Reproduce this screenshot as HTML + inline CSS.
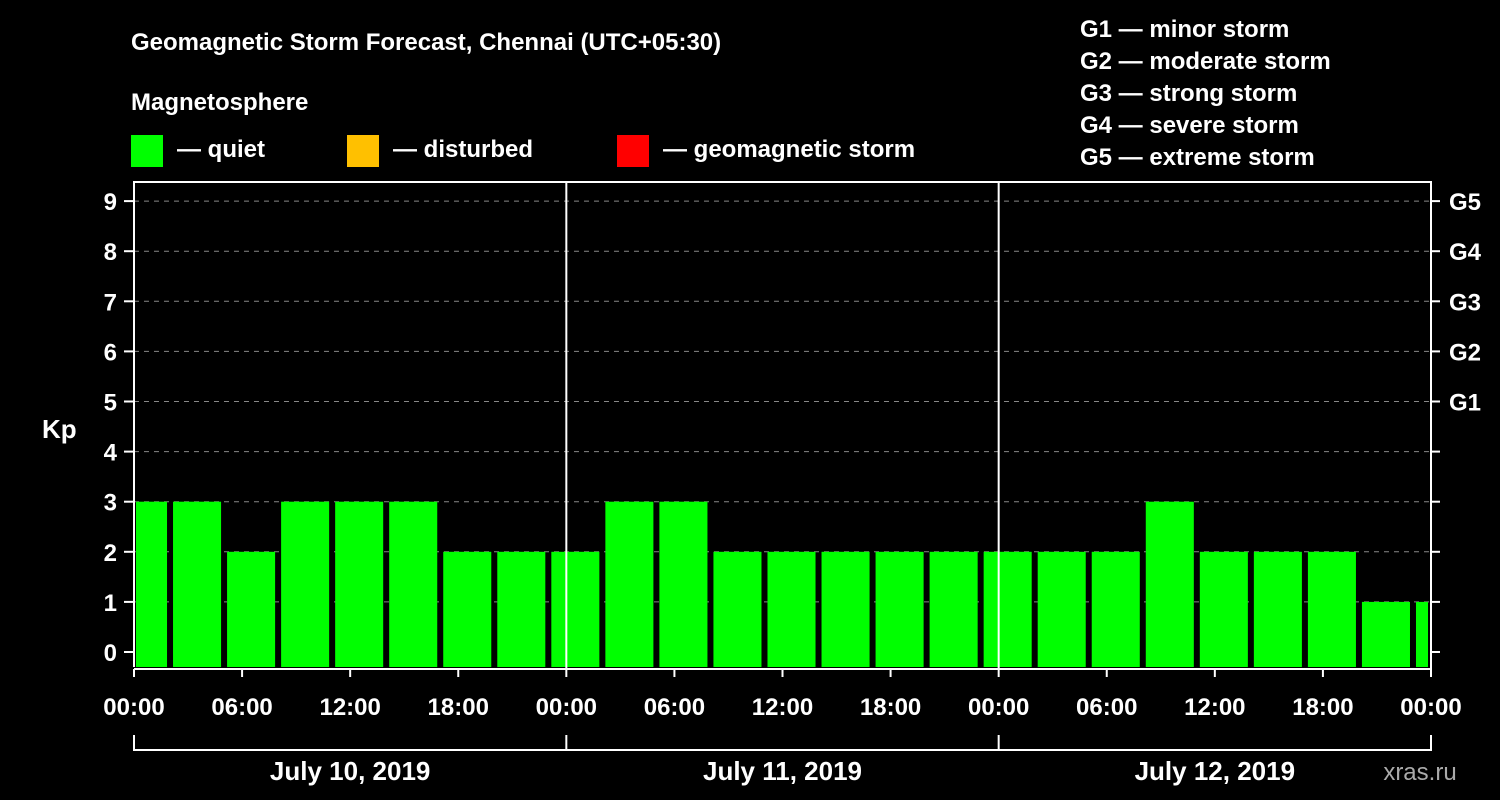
<!DOCTYPE html>
<html><head><meta charset="utf-8"><style>
body{margin:0;background:#000;}
svg{display:block;font-family:"Liberation Sans",Arial,sans-serif;font-weight:bold;}
</style></head><body>
<svg id="chart" width="1500" height="800" viewBox="0 0 1500 800">
<rect width="1500" height="800" fill="#000"/>
<text x="131" y="50" fill="#fff" font-size="24">Geomagnetic Storm Forecast, Chennai (UTC+05:30)</text>
<text x="131" y="110" fill="#fff" font-size="24">Magnetosphere</text>
<g><rect x="131" y="135" width="32" height="32" fill="#00ff00"/><text x="177" y="157" fill="#fff" font-size="24">— quiet</text></g>
<g><rect x="347" y="135" width="32" height="32" fill="#ffc000"/><text x="393" y="157" fill="#fff" font-size="24">— disturbed</text></g>
<g><rect x="617" y="135" width="32" height="32" fill="#ff0000"/><text x="663" y="157" fill="#fff" font-size="24">— geomagnetic storm</text></g>
<g fill="#fff" font-size="24">
<text x="1080" y="37">G1 — minor storm</text>
<text x="1080" y="69">G2 — moderate storm</text>
<text x="1080" y="101">G3 — strong storm</text>
<text x="1080" y="133">G4 — severe storm</text>
<text x="1080" y="165">G5 — extreme storm</text>
</g>
<text x="42" y="438" fill="#fff" font-size="26">Kp</text>
<text x="1420" y="780" fill="#aaa" font-size="24" text-anchor="middle" font-weight="normal">xras.ru</text>
<g id="grid"></g><g id="bars"></g><g id="axes"></g>
</svg>
<script>
const kpValues=[3,3,2,3,3,3,2,2,2,3,3,2,2,2,2,2,2,2,2,3,2,2,2,1,1];
const firstBlockStartHour=-1;
const dayLabels=["July 10, 2019","July 11, 2019","July 12, 2019"];
const timeLabels=["00:00","06:00","12:00","18:00"];
const gLabels=["G1","G2","G3","G4","G5"];
const NS="http://www.w3.org/2000/svg";
const X0=134,X1=1431,Y0=652,KPU=50.1,TOTAL=72;
const xs=h=>X0+(X1-X0)*h/TOTAL;
const ys=v=>Y0-v*KPU;
function mk(t,a,p){const e=document.createElementNS(NS,t);for(const k in a)e.setAttribute(k,a[k]);p.appendChild(e);return e;}
const grid=document.getElementById('grid'),bars=document.getElementById('bars'),axes=document.getElementById('axes');
for(let v=1;v<=9;v++){const l=mk('line',{x1:X0,x2:X1,y1:ys(v),y2:ys(v),stroke:'#888','stroke-dasharray':'5,5','stroke-width':1},grid);

}
kpValues.forEach((v,i)=>{let s=xs(firstBlockStartHour+3*i)+3,e=xs(firstBlockStartHour+3*i+3)-3;
s=Math.max(s,X0+2);e=Math.min(e,X1-3);
const r=mk('rect',{x:s,y:ys(v),width:e-s,height:667-ys(v),fill:v>=5?'#ff0000':(v>=4?'#ffc000':'#00ff00')},bars);

});
const ax=mk('path',{d:`M${X0} 667 V182 H${X1} V669 H${X0}`,fill:'none',stroke:'#fff','stroke-width':2},axes);


for(let d=1;d<3;d++){const l=mk('line',{x1:xs(24*d),x2:xs(24*d),y1:182,y2:669,stroke:'#fff','stroke-width':2},axes);

}
for(let v=0;v<=9;v++){mk('line',{x1:X0-10,x2:X0,y1:ys(v),y2:ys(v),stroke:'#fff','stroke-width':2},axes);
mk('line',{x1:X1,x2:X1+9,y1:ys(v),y2:ys(v),stroke:'#fff','stroke-width':2},axes);
const t=mk('text',{x:117,y:ys(v)+9,fill:'#fff','font-size':24,'text-anchor':'end'},axes);t.textContent=v;


if(v>=5){const g=mk('text',{x:1449,y:ys(v)+9,fill:'#fff','font-size':24},axes);g.textContent=gLabels[v-5];

}}
for(let h=0;h<=72;h+=6){const x=xs(h);mk('line',{x1:x,x2:x,y1:669,y2:(h%24==0?677:677),stroke:'#fff','stroke-width':2},axes);
const t=mk('text',{x:x,y:715,fill:'#fff','font-size':24,'text-anchor':'middle'},axes);t.textContent=timeLabels[(h/6)%4];

}
mk('path',{d:`M${X0} 735 V750 H${X1} V735`,fill:'none',stroke:'#fff','stroke-width':2},axes);
for(let d=1;d<3;d++)mk('line',{x1:xs(24*d),x2:xs(24*d),y1:735,y2:750,stroke:'#fff','stroke-width':2},axes);
dayLabels.forEach((s,d)=>{const t=mk('text',{x:xs(24*d+12),y:780,fill:'#fff','font-size':26,'text-anchor':'middle'},axes);t.textContent=s;

});
</script>
</body></html>
